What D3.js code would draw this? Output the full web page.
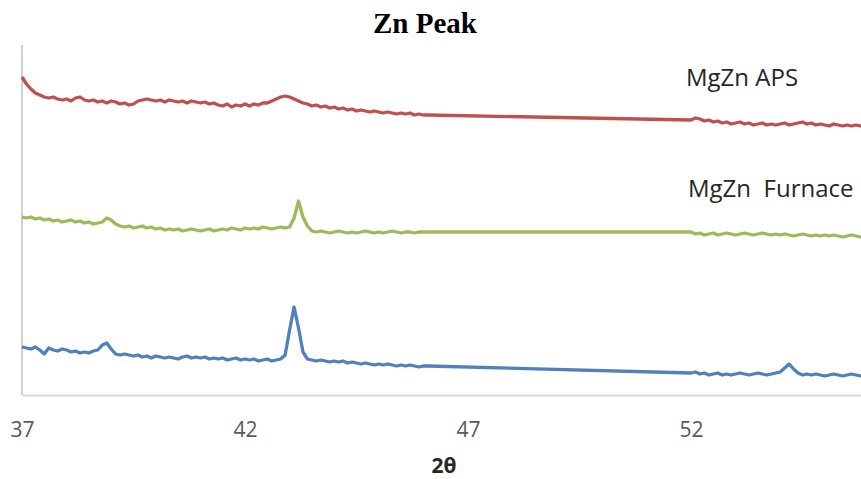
<!DOCTYPE html>
<html lang="en">
<head>
    <meta charset="utf-8">
    <title>Zn Peak</title>
    <script type="text/javascript" src="https://cdn.jsdelivr.net/npm/d3@7/dist/d3.min.js"></script>
    <style>
        body { margin: 0; background: #fff; }
        svg { display: block; overflow: hidden; }
    </style>
</head>
<body>
<div id="chart"></div>
<script type="text/javascript">
    // 2 theta sampling points (the scan has a gap between ~46 and ~52)
    var twoTheta = [
        37.0, 37.1, 37.2, 37.3, 37.4, 37.5, 37.6, 37.7, 37.8, 37.9,
        38.0, 38.1, 38.2, 38.3, 38.4, 38.5, 38.6, 38.7, 38.8, 38.9,
        39.0, 39.1, 39.2, 39.3, 39.4, 39.5, 39.6, 39.7, 39.8, 39.9,
        40.0, 40.1, 40.2, 40.3, 40.4, 40.5, 40.6, 40.7, 40.8, 40.9,
        41.0, 41.1, 41.2, 41.3, 41.4, 41.5, 41.6, 41.7, 41.8, 41.9,
        42.0, 42.1, 42.2, 42.3, 42.4, 42.5, 42.6, 42.7, 42.8, 42.9,
        43.0, 43.1, 43.2, 43.3, 43.4, 43.5, 43.6, 43.7, 43.8, 43.9,
        44.0, 44.1, 44.2, 44.3, 44.4, 44.5, 44.6, 44.7, 44.8, 44.9,
        45.0, 45.1, 45.2, 45.3, 45.4, 45.5, 45.6, 45.7, 45.8, 45.9,
        46.0, 46.1,
        52.0, 52.1, 52.2, 52.3, 52.4, 52.5, 52.6, 52.7, 52.8, 52.9,
        53.0, 53.1, 53.2, 53.3, 53.4, 53.5, 53.6, 53.7, 53.8, 53.9,
        54.0, 54.1, 54.2, 54.3, 54.4, 54.5, 54.6, 54.7, 54.8, 54.9,
        55.0, 55.1, 55.2, 55.3, 55.4, 55.5, 55.6, 55.7, 55.8, 55.9
    ];

    // intensities (arbitrary units, stacked with offset)
    var aps = [
        318, 311, 306, 302, 300, 298, 297, 298, 296, 295,
        296, 294, 297, 298, 295, 294, 295, 293, 294, 292,
        294, 293, 291, 292, 290, 291, 294, 295, 296, 295,
        294, 295, 293, 295, 294, 293, 294, 292, 294, 293,
        292, 293, 291, 292, 290, 289, 291, 288, 290, 289,
        291, 289, 291, 290, 292, 292, 294, 296, 298, 299,
        298, 296, 294, 292, 291, 289, 290, 288, 289, 287,
        288, 286, 287, 285, 286, 284, 285, 284, 283, 284,
        283, 282, 283, 282, 281, 282, 281, 282, 280, 281,
        280, 280,
        275, 277, 276, 274, 275, 273, 274, 272, 273, 271,
        272, 273, 271, 272, 270, 271, 272, 270, 271, 270,
        271, 272, 270, 271, 272, 273, 271, 272, 270, 271,
        270, 269, 271, 270, 269, 270, 269, 270, 269, 270
    ];

    var furnace = [
        178, 177, 178, 176, 177, 175, 176, 174, 175, 173,
        174, 175, 173, 174, 172, 173, 171, 172, 173, 177,
        175, 171, 169, 168, 169, 167, 168, 169, 167, 168,
        166, 167, 165, 166, 165, 166, 164, 165, 166, 165,
        164, 165, 166, 164, 165, 166, 165, 167, 166, 165,
        167, 166, 167, 166, 168, 167, 166, 167, 168, 167,
        168, 177, 194, 178, 169, 164, 163, 164, 163, 162,
        163, 164, 163, 162, 163, 162, 163, 164, 163, 162,
        163, 162, 163, 164, 163, 162, 163, 163, 162, 163,
        163, 163,
        163, 161, 162, 160, 161, 162, 160, 161, 162, 161,
        160, 161, 162, 161, 160, 161, 162, 161, 160, 161,
        160, 161, 160, 159, 160, 161, 160, 159, 160, 159,
        160, 159, 160, 159, 158, 159, 160, 159, 158, 159
    ];

    var mgzn = [
        48, 47, 46, 48, 45, 41, 47, 45, 44, 46,
        45, 43, 44, 42, 43, 42, 44, 45, 50, 52,
        46, 41, 40, 41, 40, 39, 40, 38, 39, 37,
        39, 38, 37, 38, 37, 36, 38, 39, 37, 38,
        37, 38, 36, 37, 36, 37, 35, 36, 37, 35,
        36, 35, 36, 34, 35, 36, 34, 35, 36, 40,
        65, 88, 67, 43, 36, 35, 34, 35, 34, 33,
        34, 33, 34, 32, 33, 32, 31, 32, 31, 30,
        31, 30, 31, 30, 29, 30, 29, 30, 29, 28,
        29, 29,
        22, 23, 21, 22, 20, 21, 22, 20, 21, 20,
        21, 22, 21, 20, 21, 22, 21, 20, 21, 22,
        23, 27, 31, 26, 22, 20, 21, 20, 21, 20,
        19, 20, 21, 20, 19, 20, 21, 20, 19, 20
    ];

    var xTicks = [37, 42, 47, 52];
    var seriesNames = ["MgZn APS", "MgZn  Furnace", ""];
    var seriesColors = ["#c0504d", "#9bbb59", "#4f81bd"];

    var w = 861;
    var h = 479;
    var padLeft = 22;
    var padTop = 45;
    var padBottom = 395;

    var xScale = d3.scaleLinear()
        .domain([37, 57])
        .range([padLeft, 914]);

    var yScale = d3.scaleLinear()
        .domain([0, 350])
        .range([padBottom, padTop]);

    var svg = d3.select("#chart")
        .append("svg")
        .attr("width", w)
        .attr("height", h);

    // y axis line only, no labels
    svg.append("line")
        .attr("x1", padLeft).attr("x2", padLeft)
        .attr("y1", yScale(350)).attr("y2", yScale(0))
        .attr("stroke", "#bfbfbf")
        .attr("stroke-width", 1.5);

    var xAxis = d3.axisBottom(xScale)
        .tickValues(xTicks)
        .tickSize(0)
        .tickFormat(d3.format("d"));

    var gx = svg.append("g")
        .attr("transform", "translate(0," + padBottom + ")")
        .call(xAxis);

    gx.select(".domain")
        .attr("stroke", "#d9d9d9")
        .attr("stroke-width", 2);

    gx.selectAll("text")
        .attr("y", 42)
        .attr("dy", 0)
        .attr("fill", "#595959")
        .style("font-family", "'Open Sans', sans-serif")
        .style("font-size", "21px");

    var line = d3.line()
        .x(function (d) { return xScale(d[0]); })
        .y(function (d) { return yScale(d[1]); });

    [aps, furnace, mgzn].forEach(function (vals, i) {
        var pts = twoTheta.map(function (t, j) { return [t, vals[j]]; });
        svg.append("path")
            .datum(pts)
            .attr("fill", "none")
            .attr("stroke", seriesColors[i])
            .attr("stroke-width", 3.3)
            .attr("stroke-linejoin", "round")
            .attr("d", line);
    });

    // series labels sit above each trace
    svg.append("text")
        .attr("x", 686)
        .attr("y", 86)
        .attr("fill", "#262626")
        .style("font-family", "'Open Sans', sans-serif")
        .style("font-size", "24px")
        .text(seriesNames[0]);

    svg.append("text")
        .attr("x", 688)
        .attr("y", 197)
        .attr("fill", "#262626")
        .style("font-family", "'Open Sans', sans-serif")
        .style("font-size", "24px")
        .style("white-space", "pre")
        .text(seriesNames[1]);

    svg.append("text")
        .attr("text-anchor", "middle")
        .attr("x", 425)
        .attr("y", 33)
        .attr("fill", "#000")
        .style("font-family", "'Liberation Serif', serif")
        .style("font-weight", "bold")
        .style("font-size", "29px")
        .text("Zn Peak");

    svg.append("text")
        .attr("text-anchor", "middle")
        .attr("x", 444)
        .attr("y", 473)
        .attr("fill", "#262626")
        .style("font-family", "'Open Sans', sans-serif")
        .style("font-weight", "bold")
        .style("font-size", "21px")
        .text("2θ");
</script>
</body>
</html>
